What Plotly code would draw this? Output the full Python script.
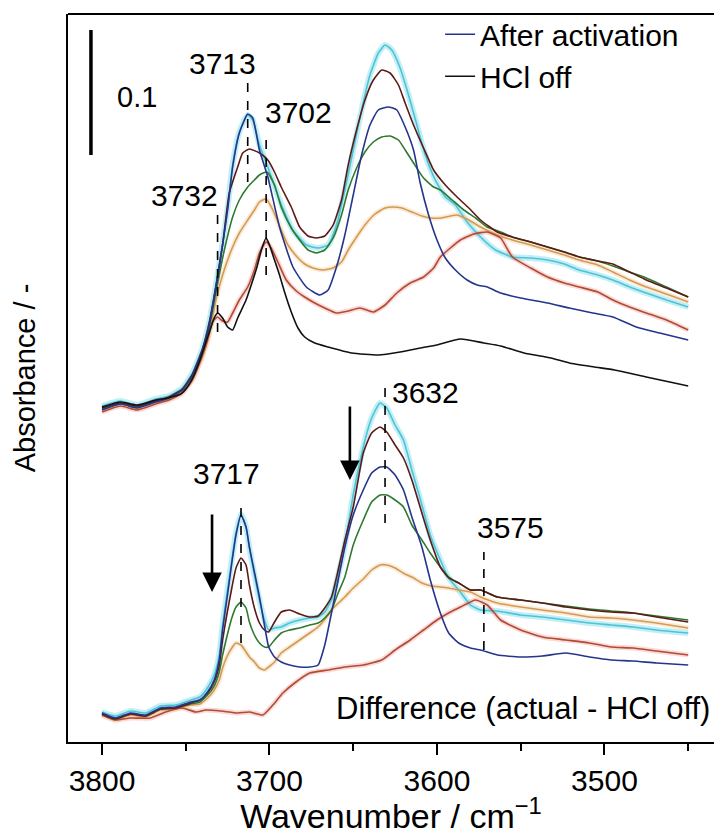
import plotly.graph_objects as go

# ---------------- data (wavenumber / cm-1, absorbance, stacked) ----------------
# Upper set: raw spectra
TOP_BLACK_WN = [3800, 3789, 3779, 3768, 3761, 3753, 3749, 3745, 3741.5, 3738.5, 3735.5, 3733, 3731, 3728, 3725, 3722, 3719, 3714, 3710.5, 3707.5, 3704.5, 3702, 3700, 3697, 3694, 3691, 3687, 3683, 3679, 3673, 3665, 3651, 3635, 3622, 3610, 3600, 3586, 3572, 3562, 3548, 3532, 3521, 3506, 3494, 3475, 3461, 3450]
TOP_BLACK_A = [0.268, 0.272, 0.2696, 0.2736, 0.2752, 0.2784, 0.284, 0.2936, 0.3056, 0.3176, 0.3296, 0.3392, 0.3432, 0.3392, 0.332, 0.3296, 0.3392, 0.3536, 0.3672, 0.38, 0.3952, 0.4032, 0.3976, 0.3856, 0.3736, 0.36, 0.344, 0.3312, 0.324, 0.3192, 0.316, 0.3112, 0.3096, 0.312, 0.3152, 0.3176, 0.3224, 0.3192, 0.3168, 0.3112, 0.3072, 0.3032, 0.3, 0.2976, 0.292, 0.288, 0.2848]

TOP_NAVY_WN = [3800, 3789, 3779, 3768, 3760, 3752, 3746, 3740, 3736, 3732, 3728, 3725, 3722, 3718, 3713, 3710, 3706, 3701, 3694, 3686, 3678, 3670, 3665, 3660, 3655, 3650, 3645, 3640, 3635, 3629, 3624, 3619, 3614, 3610, 3605, 3600, 3595, 3589, 3582, 3576, 3570, 3562, 3550, 3534, 3521, 3507, 3495, 3481, 3467, 3450]
TOP_NAVY_A = [0.2656, 0.2704, 0.2672, 0.272, 0.2752, 0.2816, 0.2936, 0.3136, 0.3336, 0.364, 0.3976, 0.4256, 0.46, 0.4872, 0.5024, 0.4992, 0.4736, 0.452, 0.412, 0.38, 0.364, 0.3576, 0.3616, 0.38, 0.4056, 0.4376, 0.4696, 0.4936, 0.5056, 0.508, 0.5056, 0.492, 0.4736, 0.4472, 0.4216, 0.4016, 0.3872, 0.3776, 0.3696, 0.3656, 0.364, 0.3592, 0.3552, 0.3512, 0.3472, 0.3432, 0.34, 0.332, 0.3272, 0.3216]

TOP_CYAN_WN = [3800, 3789, 3779, 3768, 3760, 3752, 3746, 3740, 3736, 3732, 3728, 3725, 3722, 3718, 3713, 3710, 3706, 3701, 3694, 3686, 3678, 3671, 3665, 3660, 3655, 3650, 3645, 3640, 3635, 3631, 3627, 3622, 3617, 3612, 3607, 3601, 3595, 3589, 3582, 3574, 3565, 3555, 3544, 3534, 3524, 3515, 3504, 3495, 3485, 3475, 3463, 3450]
TOP_CYAN_A = [0.2688, 0.2728, 0.2696, 0.2744, 0.2768, 0.2832, 0.2952, 0.3152, 0.336, 0.3656, 0.3992, 0.4272, 0.4616, 0.488, 0.5016, 0.4976, 0.4776, 0.46, 0.4336, 0.4096, 0.3976, 0.3952, 0.3976, 0.4136, 0.4416, 0.4736, 0.5056, 0.5336, 0.5512, 0.5576, 0.5536, 0.5392, 0.5176, 0.4936, 0.4696, 0.4496, 0.436, 0.4296, 0.416, 0.404, 0.3936, 0.388, 0.3872, 0.3856, 0.3824, 0.3776, 0.3736, 0.3696, 0.364, 0.3592, 0.3536, 0.348]

TOP_BROWN_WN = [3800, 3789, 3779, 3768, 3760, 3752, 3746, 3740, 3736, 3732, 3728, 3724, 3719, 3716, 3712, 3706, 3701, 3697, 3693, 3687, 3682, 3677, 3672, 3667, 3662, 3657, 3653, 3648, 3643, 3638, 3633, 3628, 3623, 3619, 3614, 3608, 3602, 3595, 3588, 3581, 3574, 3564, 3555, 3544, 3534, 3524, 3515, 3504, 3495, 3485, 3475, 3463, 3450]
TOP_BROWN_A = [0.2672, 0.2712, 0.2688, 0.2728, 0.276, 0.2824, 0.2944, 0.3144, 0.3352, 0.364, 0.3976, 0.4392, 0.46, 0.4712, 0.4744, 0.4712, 0.4656, 0.456, 0.444, 0.428, 0.412, 0.4048, 0.4032, 0.4048, 0.4136, 0.4336, 0.4616, 0.4896, 0.5136, 0.5296, 0.5376, 0.5352, 0.5256, 0.5112, 0.4936, 0.4752, 0.4576, 0.4456, 0.436, 0.4272, 0.4176, 0.408, 0.404, 0.4, 0.396, 0.392, 0.388, 0.3848, 0.3824, 0.376, 0.3696, 0.3632, 0.356]

TOP_GREEN_WN = [3800, 3789, 3779, 3768, 3760, 3752, 3746, 3740, 3736, 3732, 3728, 3722, 3718, 3713, 3709, 3706, 3701.5, 3697, 3693, 3687, 3682, 3677, 3672, 3667, 3662, 3657, 3653, 3648, 3643, 3638, 3633, 3628, 3623, 3619, 3614, 3608, 3602, 3598, 3591, 3584, 3577, 3570, 3562, 3555, 3544, 3534, 3524, 3515, 3504, 3495, 3485, 3475, 3463, 3450]
TOP_GREEN_A = [0.2664, 0.2704, 0.268, 0.2728, 0.2752, 0.2816, 0.2928, 0.312, 0.3312, 0.36, 0.3872, 0.42, 0.4336, 0.444, 0.4496, 0.4536, 0.456, 0.4456, 0.428, 0.4112, 0.4016, 0.3936, 0.3912, 0.3936, 0.4032, 0.4216, 0.4416, 0.4592, 0.472, 0.48, 0.484, 0.4848, 0.4816, 0.4736, 0.4632, 0.4512, 0.444, 0.4416, 0.4336, 0.4256, 0.4192, 0.412, 0.408, 0.404, 0.4, 0.396, 0.392, 0.388, 0.3848, 0.3808, 0.376, 0.3712, 0.364, 0.356]

TOP_ORANGE_WN = [3800, 3789, 3779, 3768, 3760, 3752, 3746, 3740, 3736, 3732, 3728, 3722, 3718, 3713, 3709, 3706, 3702, 3698, 3693.5, 3689, 3684, 3679, 3674, 3668, 3662, 3657, 3653, 3648, 3643, 3637, 3631, 3626, 3621, 3615, 3609, 3604, 3598, 3592, 3588, 3581, 3574, 3564, 3555, 3544, 3534, 3524, 3515, 3504, 3495, 3485, 3475, 3463, 3450]
TOP_ORANGE_A = [0.2672, 0.2704, 0.268, 0.272, 0.2744, 0.28, 0.2904, 0.308, 0.3256, 0.3536, 0.3736, 0.396, 0.4072, 0.4176, 0.4256, 0.432, 0.4344, 0.4256, 0.4112, 0.3976, 0.3888, 0.3824, 0.3792, 0.3776, 0.3792, 0.384, 0.3936, 0.404, 0.4136, 0.4224, 0.4272, 0.428, 0.4272, 0.424, 0.4208, 0.4192, 0.4192, 0.4208, 0.4216, 0.4176, 0.412, 0.4056, 0.4016, 0.3976, 0.3936, 0.3896, 0.3856, 0.3816, 0.376, 0.3696, 0.364, 0.3584, 0.352]

TOP_RED_WN = [3800, 3789, 3779, 3768, 3760, 3752, 3746, 3741.5, 3737, 3734, 3731, 3728, 3725, 3722, 3718, 3713, 3709, 3706, 3702, 3699, 3695, 3690, 3684, 3679, 3673, 3667, 3660, 3653, 3646, 3638, 3631, 3624, 3616, 3608, 3602, 3598, 3592, 3586, 3578, 3570, 3562, 3555, 3544, 3534, 3524, 3515, 3504, 3495, 3485, 3475, 3463, 3450]
TOP_RED_A = [0.264, 0.2688, 0.2656, 0.2704, 0.2736, 0.2792, 0.2896, 0.304, 0.3216, 0.336, 0.34, 0.3368, 0.336, 0.3432, 0.3536, 0.364, 0.3776, 0.3912, 0.4, 0.3952, 0.384, 0.3696, 0.3608, 0.356, 0.3512, 0.3472, 0.3432, 0.3448, 0.3472, 0.344, 0.3496, 0.3592, 0.3672, 0.372, 0.3792, 0.388, 0.3952, 0.4016, 0.4064, 0.408, 0.4032, 0.388, 0.3792, 0.372, 0.3672, 0.364, 0.36, 0.3536, 0.348, 0.3432, 0.3376, 0.3296]

# Lower set: difference spectra (actual - HCl off)
BOT_WN = [3800, 3792, 3783, 3774, 3765, 3756, 3747, 3741.5, 3737, 3733, 3730, 3728, 3725.5, 3722.5, 3720, 3717, 3714, 3712, 3709, 3706, 3703, 3700.5, 3697, 3693, 3688, 3682, 3676, 3671, 3667, 3663, 3659, 3655, 3650, 3644, 3639, 3634, 3630, 3625, 3620, 3615, 3609, 3604, 3598, 3593, 3587, 3580, 3574, 3564, 3550, 3537, 3523, 3509, 3496, 3483, 3469, 3450]
BOT_NAVY_A = [0.0232, 0.0192, 0.0232, 0.0216, 0.0272, 0.028, 0.032, 0.0336, 0.04, 0.0496, 0.0656, 0.0896, 0.1136, 0.1432, 0.1656, 0.1816, 0.172, 0.156, 0.136, 0.116, 0.0936, 0.076, 0.068, 0.064, 0.0616, 0.06, 0.06, 0.0616, 0.0776, 0.1032, 0.1296, 0.156, 0.1816, 0.2016, 0.2152, 0.22, 0.22, 0.2136, 0.2016, 0.18, 0.156, 0.1296, 0.1032, 0.0872, 0.0792, 0.0752, 0.0736, 0.0696, 0.068, 0.0688, 0.0712, 0.068, 0.0656, 0.0648, 0.0632, 0.0616]
BOT_CYAN_A = [0.024, 0.0208, 0.0248, 0.0232, 0.0288, 0.0296, 0.0336, 0.036, 0.0432, 0.0536, 0.0696, 0.0936, 0.1176, 0.1456, 0.1672, 0.1824, 0.172, 0.1552, 0.1336, 0.1136, 0.0976, 0.0896, 0.0912, 0.092, 0.0952, 0.0976, 0.0992, 0.1, 0.104, 0.1136, 0.1336, 0.1576, 0.1976, 0.236, 0.2592, 0.2712, 0.2672, 0.2536, 0.2416, 0.2176, 0.1896, 0.1656, 0.1456, 0.1312, 0.1216, 0.1096, 0.1056, 0.1048, 0.1016, 0.1, 0.0976, 0.0952, 0.0936, 0.092, 0.0896, 0.0872]
BOT_BROWN_A = [0.0224, 0.0184, 0.0224, 0.0208, 0.0264, 0.0272, 0.0312, 0.0336, 0.0392, 0.048, 0.0616, 0.0816, 0.1016, 0.1232, 0.1392, 0.1472, 0.1416, 0.1256, 0.1072, 0.0952, 0.0896, 0.088, 0.096, 0.104, 0.1056, 0.1024, 0.1, 0.1008, 0.1072, 0.116, 0.1376, 0.1616, 0.188, 0.2312, 0.2472, 0.252, 0.248, 0.2376, 0.2272, 0.2096, 0.1832, 0.1616, 0.14, 0.1312, 0.1272, 0.1216, 0.1216, 0.116, 0.1136, 0.1112, 0.108, 0.1056, 0.104, 0.1032, 0.1, 0.096]
BOT_GREEN_A = [0.0224, 0.0184, 0.0224, 0.0208, 0.0264, 0.0272, 0.0304, 0.032, 0.0376, 0.0448, 0.056, 0.0696, 0.084, 0.0992, 0.108, 0.112, 0.1072, 0.096, 0.0856, 0.0792, 0.076, 0.076, 0.0816, 0.0872, 0.0896, 0.0912, 0.0936, 0.0952, 0.0992, 0.1056, 0.1192, 0.132, 0.1576, 0.1776, 0.192, 0.1976, 0.1976, 0.1936, 0.188, 0.1736, 0.1616, 0.1512, 0.14, 0.132, 0.1272, 0.1216, 0.1216, 0.116, 0.1136, 0.1112, 0.1088, 0.1064, 0.1048, 0.1032, 0.1008, 0.0976]
BOT_ORANGE_A = [0.0216, 0.0176, 0.0216, 0.02, 0.0256, 0.0264, 0.0296, 0.0304, 0.0352, 0.0416, 0.0496, 0.0592, 0.068, 0.0752, 0.0792, 0.0776, 0.072, 0.068, 0.064, 0.0592, 0.0576, 0.06, 0.064, 0.0712, 0.076, 0.0816, 0.0872, 0.092, 0.098, 0.1056, 0.111, 0.116, 0.1232, 0.1304, 0.1376, 0.1416, 0.1416, 0.1392, 0.135, 0.132, 0.1272, 0.125, 0.124, 0.1232, 0.1216, 0.12, 0.116, 0.1112, 0.108, 0.1056, 0.1032, 0.1, 0.0992, 0.0976, 0.0952, 0.0912]
BOT_RED_WN = [3800, 3792, 3783, 3771, 3762, 3752, 3744, 3738, 3729, 3719, 3712, 3704, 3698, 3692, 3685, 3676, 3665, 3655, 3644, 3633, 3625, 3616, 3608, 3600, 3592, 3586, 3577, 3570, 3562, 3550, 3537, 3523, 3509, 3496, 3483, 3469, 3450]
BOT_RED_A = [0.0216, 0.0176, 0.0192, 0.0192, 0.024, 0.0272, 0.024, 0.0256, 0.0248, 0.0232, 0.024, 0.0216, 0.0296, 0.0392, 0.0472, 0.0552, 0.0576, 0.06, 0.0616, 0.0656, 0.0736, 0.0816, 0.0896, 0.0976, 0.104, 0.108, 0.1136, 0.1096, 0.0976, 0.0896, 0.084, 0.0816, 0.0792, 0.076, 0.0752, 0.0728, 0.0696]

# Peak labels
PEAK_LABELS = ["3713", "3702", "3732", "3632", "3717", "3575"]
LEGEND_NAMES = ["After activation", "HCl off"]

# ---------------- styles ----------------
C_NAVY = "#25358c"
C_CYAN = "#4fc3d6"
C_BROWN = "#5e1a16"
C_GREEN = "#2d7a30"
C_ORANGE = "#d49a55"
C_RED = "#b24a35"
C_BLACK = "#111111"
FONT = "Liberation Sans, Arial, sans-serif"

fig = go.Figure()


def add(wn, a, color, width=1.6, name=None, legend=False):
    fig.add_trace(go.Scatter(x=wn, y=a, mode="lines", name=name, showlegend=legend,
                             line=dict(color=color, width=width, shape="spline", smoothing=0.5),
                             hoverinfo="skip"))


# glow halos (soft blur seen in the reference)
for wn, a in [(TOP_CYAN_WN, TOP_CYAN_A), (BOT_WN, BOT_CYAN_A)]:
    add(wn, a, "rgba(120,220,236,0.45)", width=6)
for wn, a in [(TOP_RED_WN, TOP_RED_A), (BOT_RED_WN, BOT_RED_A)]:
    add(wn, a, "rgba(236,150,140,0.35)", width=5)
for wn, a in [(TOP_ORANGE_WN, TOP_ORANGE_A), (BOT_WN, BOT_ORANGE_A)]:
    add(wn, a, "rgba(242,205,155,0.4)", width=5)

add(TOP_CYAN_WN, TOP_CYAN_A, C_CYAN)
add(BOT_WN, BOT_CYAN_A, C_CYAN)
add(TOP_ORANGE_WN, TOP_ORANGE_A, C_ORANGE)
add(BOT_WN, BOT_ORANGE_A, C_ORANGE)
add(TOP_RED_WN, TOP_RED_A, C_RED)
add(BOT_RED_WN, BOT_RED_A, C_RED)
add(TOP_GREEN_WN, TOP_GREEN_A, C_GREEN)
add(BOT_WN, BOT_GREEN_A, C_GREEN)
add(TOP_BROWN_WN, TOP_BROWN_A, C_BROWN)
add(BOT_WN, BOT_BROWN_A, C_BROWN)
add(TOP_NAVY_WN, TOP_NAVY_A, C_NAVY, name=LEGEND_NAMES[0], legend=True)
add(BOT_WN, BOT_NAVY_A, C_NAVY)
add(TOP_BLACK_WN, TOP_BLACK_A, C_BLACK, name=LEGEND_NAMES[1], legend=True)

# ---------------- annotations ----------------
shapes = []
# frame: top line (left/bottom drawn by axes, right side cut off in original)
shapes.append(dict(type="line", xref="paper", yref="paper", x0=0, x1=1, y0=1, y1=1,
                   line=dict(color="black", width=2)))
# scale bar 0.1
shapes.append(dict(type="line", xref="x", yref="y", x0=3806.6, x1=3806.6, y0=0.4696, y1=0.5696,
                   line=dict(color="black", width=3.5)))
# dashed markers: (wn, y0, y1)
dashes = [(3713, 0.448, 0.5272), (3702, 0.3736, 0.4816), (3731, 0.328, 0.4216),
          (3631, 0.1752, 0.2872), (3717, 0.0792, 0.1936), (3572, 0.0736, 0.152)]
for wn, y0, y1 in dashes:
    shapes.append(dict(type="line", xref="x", yref="y", x0=wn, x1=wn, y0=y0, y1=y1,
                       line=dict(color="black", width=1.6, dash="dash")))

annots = []
label_pos = [(3727.8, 0.5432), (3682.4, 0.504), (3751, 0.4376),
             (3607, 0.28), (3725.4, 0.2152), (3556.4, 0.172)]
for txt, (x, y) in zip(PEAK_LABELS, label_pos):
    annots.append(dict(x=x, y=y, xref="x", yref="y", text=txt, showarrow=False,
                       font=dict(family=FONT, size=30, color="black")))
annots.append(dict(x=3792, y=0.516, xref="x", yref="y", text="0.1", showarrow=False,
                   xanchor="left", font=dict(family=FONT, size=29, color="black")))
annots.append(dict(x=3436, y=0.0272, xref="x", yref="y", text="Difference (actual - HCl off)",
                   showarrow=False, xanchor="right",
                   font=dict(family=FONT, size=31, color="black")))
# arrows
for xa, ytail, yhead in [(3734.3, 0.1832, 0.12), (3652, 0.2696, 0.2096)]:
    annots.append(dict(x=xa, y=yhead, ax=xa, ay=ytail, xref="x", yref="y", axref="x", ayref="y",
                       text="", showarrow=True, arrowhead=2, arrowsize=1.5, arrowwidth=2.6,
                       arrowcolor="black"))

fig.update_layout(
    width=714, height=835,
    margin=dict(l=68, r=0, t=14, b=93),
    paper_bgcolor="white", plot_bgcolor="white",
    shapes=shapes, annotations=annots,
    font=dict(family=FONT, color="black"),
    legend=dict(x=0.576, y=1.008, xanchor="left", yanchor="top", bgcolor="rgba(0,0,0,0)",
                font=dict(family=FONT, size=30, color="black"), tracegroupgap=0,
                itemwidth=30),
)
fig.update_xaxes(range=[3820.3, 3434.6], showline=True, linecolor="black", linewidth=2,
                 mirror=False, ticks="outside", ticklen=11, tickwidth=2, tickcolor="black",
                 tickvals=[3800, 3700, 3600, 3500],
                 minor=dict(ticks="outside", ticklen=7, tickwidth=2, tickcolor="black",
                            tickvals=[3750, 3650, 3550, 3450]),
                 showgrid=False, zeroline=False,
                 tickfont=dict(family=FONT, size=30, color="black"),
                 title=dict(text="Wavenumber / cm<sup>\u22121</sup>", standoff=9,
                            font=dict(family=FONT, size=34, color="black")))
fig.update_yaxes(range=[0, 0.5824], showline=True, linecolor="black", linewidth=2,
                 ticks="", showticklabels=False, showgrid=False, zeroline=False,
                 title=dict(text="Absorbance / -", standoff=22,
                            font=dict(family=FONT, size=29, color="black")))

fig.write_html("out.html")
